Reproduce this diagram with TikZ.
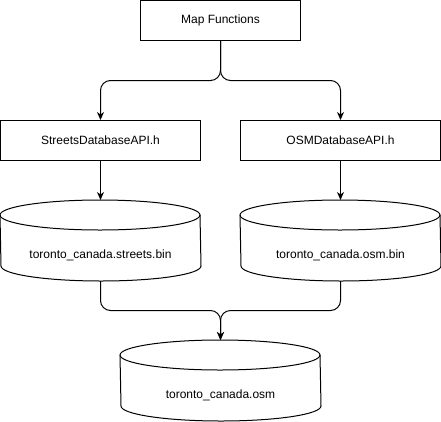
\documentclass[tikz,border=0pt]{standalone}
\usepackage{fontspec}
\setmainfont{Liberation Sans}
\usetikzlibrary{arrows.meta,calc}
\begin{document}
\begin{tikzpicture}[x=1pt,y=-1pt,line width=1pt,
  lbl/.style={font=\fontsize{12}{14}\selectfont},
  box/.style={draw,lbl,rectangle,minimum height=40pt,inner sep=0pt},
  cyl/.style={rectangle,minimum width=200pt,minimum height=80pt,inner sep=0pt},
  conn/.style={draw,rounded corners=10pt,-{Stealth[length=8pt,width=7pt,inset=2.5pt]}}]
\useasboundingbox (0,0) rectangle (441,421);
\node[box,minimum width=160pt] (mf) at (220.5,20.5) {Map Functions};
\node[box,minimum width=200pt] (sapi) at (100.5,140.5) {StreetsDatabaseAPI.h};
\node[box,minimum width=200pt] (oapi) at (340.5,140.5) {OSMDatabaseAPI.h};
\node[cyl] (c1) at (100.5,240.5) {};
\node[cyl] (c2) at (340.5,240.5) {};
\node[cyl] (c3) at (220.5,380.5) {};
\foreach \c in {c1,c2,c3}{
  \draw ([yshift=-15pt]\c.north west) arc[start angle=180,end angle=0,x radius=100pt,y radius=15pt]
     -- ([yshift=15pt]\c.south east) arc[start angle=0,end angle=-180,x radius=100pt,y radius=15pt] -- cycle;
  \draw ([yshift=-15pt]\c.north west) arc[start angle=180,end angle=360,x radius=100pt,y radius=15pt];
}
\node[lbl] (t1) at ([yshift=-15pt]c1.center) {toronto\_canada.streets.bin};
\node[lbl] (t2) at ([yshift=-15pt]c2.center) {toronto\_canada.osm.bin};
\node[lbl] (t3) at ([yshift=-15pt]c3.center) {toronto\_canada.osm};
\coordinate (j1) at (220.5,80.5);
\coordinate (j2) at (220.5,310.5);
\path[conn] (mf.south) -- (j1) -| (sapi.north);
\path[conn] (mf.south) -- (j1) -| (oapi.north);
\path[conn] (sapi.south) -- (c1.north);
\path[conn] (oapi.south) -- (c2.north);
\path[conn] (c1.south) |- (j2) -- (c3.north);
\path[conn] (c2.south) |- (j2) -- (c3.north);
\end{tikzpicture}
\end{document}
